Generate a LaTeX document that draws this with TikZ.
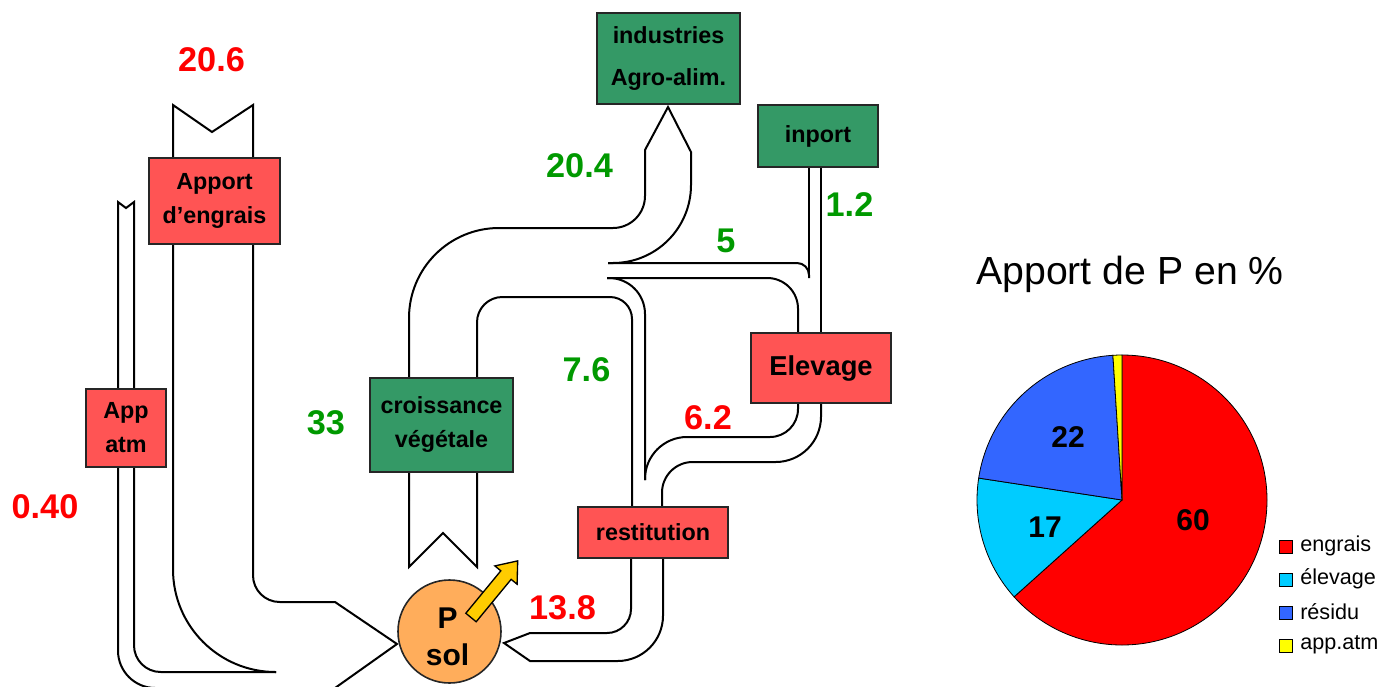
\documentclass[tikz,border=0pt]{standalone}
\usepackage{fontspec}
\setmainfont{Liberation Sans}
\usepackage{xcolor}

\definecolor{rougeboite}{RGB}{255,84,84}
\definecolor{vertboite}{RGB}{52,153,102}
\definecolor{rougeval}{RGB}{255,0,0}
\definecolor{vertval}{RGB}{0,153,0}
\definecolor{orangesol}{RGB}{255,173,91}
\definecolor{jaunefleche}{RGB}{255,204,0}
\definecolor{camrouge}{RGB}{255,0,0}
\definecolor{camcyan}{RGB}{0,204,255}
\definecolor{cambleu}{RGB}{51,102,255}
\definecolor{camjaune}{RGB}{255,255,0}

\begin{document}
\begin{tikzpicture}[x=0.75pt,y=0.75pt,yscale=-1,xscale=1,
  flux/.style={line width=1.5pt},
  boite/.style={draw=black!85,line width=1.2pt,inner sep=0pt,align=center,
    font=\fontsize{17.5}{25.5}\selectfont\bfseries},
  rouge/.style={boite,fill=rougeboite},
  vert/.style={boite,fill=vertboite},
  val/.style={inner sep=0pt,font=\fontsize{25.7}{30}\selectfont\bfseries},
  valr/.style={val,text=rougeval},
  valv/.style={val,text=vertval},
  part/.style={draw=black,line width=0.6pt},
  leg/.style={anchor=west,inner sep=0pt,font=\fontsize{16.2}{19}\selectfont}]
\useasboundingbox (0,0) rectangle (1381,686);

%Shape: Flux engrais + app atm
\draw[flux] (173,300) -- (173,105) -- (212,132) -- (253,105) -- (253,300);
\draw[flux,rounded corners=20pt] (253,300) -- (253,602) -- (300,602);
\draw[flux] (300,602) -- (335,602) -- (397,644) -- (335,688) -- (250,688);
\draw[flux,rounded corners=28pt] (250,688) -- (118,688) -- (118,500);
\draw[flux] (118,500) -- (118,202) -- (126,208) -- (134,202) -- (134,500);
\draw[flux,rounded corners=20pt] (134,500) -- (134,672) -- (276,672);
\draw[flux,rounded corners=77pt] (173,300) -- (173,672) -- (276,672);

%Shape: Flux croissance -> industries
\draw[flux] (409,500) -- (409,567) -- (443,533) -- (477,567) -- (477,500);
\draw[flux,rounded corners=67.5pt] (409,500) -- (409,228) -- (550,228);
\draw[flux,rounded corners=24pt] (550,228) -- (645,228) -- (645,180);
\draw[flux] (645,180) -- (645,150) -- (668,107) -- (691,152) -- (691,180);
\draw[flux,rounded corners=58.5pt] (691,180) -- (691,263) -- (608,263);

%Shape: Flux croissance -> elevage, inport
\draw[flux,rounded corners=9pt] (608,263) -- (809,263) -- (809,278);
\draw[flux] (809,167) -- (809,278);
\draw[flux] (821,167) -- (821,333);
\draw[flux,rounded corners=23pt] (798,333) -- (798,278) -- (607,278);

%Shape: Flux residus -> restitution
\draw[flux,rounded corners=19pt] (477,500) -- (477,297) -- (560,297);
\draw[flux,rounded corners=16.5pt] (560,297) -- (632,297) -- (632,507);
\draw[flux,rounded corners=27pt] (607,278) -- (645,278) -- (645,480);

%Shape: Flux elevage -> restitution
\draw[flux,rounded corners=21pt] (798,403) -- (798,437) -- (720,437);
\draw[flux,rounded corners=31.5pt] (720,437) -- (645,437) -- (645,480);
\draw[flux,rounded corners=34pt] (821,403) -- (821,462) -- (720,462);
\draw[flux,rounded corners=23pt] (720,462) -- (662,462) -- (662,507);

%Shape: Flux restitution -> sol
\draw[flux,rounded corners=18pt] (631,558) -- (631,633) -- (560,633);
\draw[flux] (560,633) -- (530,633) -- (504,643) -- (530,661) -- (600,661);
\draw[flux,rounded corners=34pt] (600,661) -- (663,661) -- (663,558);

%Shape: Boites
\node[rouge,minimum width=98.25pt,minimum height=64.5pt] (engrais) at (214.5,201) {Apport\\d’engrais};
\node[rouge,minimum width=60pt,minimum height=58.5pt] (atm) at (126,428) {App\\atm};
\node[vert,minimum width=107.25pt,minimum height=70.5pt] (croissance) at (441.5,425) {croissance\\végétale};
\node[vert,minimum width=107.25pt,minimum height=68.25pt] (industries) at (668.5,58.5) {industries\\[6.5pt]Agro-alim.};
\node[vert,minimum width=90pt,minimum height=46.5pt] (inport) at (818,136) {inport};
\node[rouge,minimum width=105pt,minimum height=52.5pt,font=\fontsize{20.5}{24}\selectfont\bfseries] (elevage) at (821,368) {Elevage};
\node[rouge,minimum width=112.5pt,minimum height=38.25pt] (restitution) at (653,532.5) {restitution};

%Shape: Circle sol
\node[circle,draw=black!85,line width=1.2pt,fill=orangesol,minimum size=77.25pt,inner sep=0pt] (sol) at (449.5,631.5) {};
\node[align=center,inner sep=0pt,font=\fontsize{22.5}{28}\selectfont\bfseries] (sol-texte) at (447.5,637) {P\\sol};

%Shape: Block Arrow
\begin{scope}[shift={(471,617.5)},rotate=-50.5]
\filldraw[fill=jaunefleche,draw=black,line width=1pt] (0,-6.7) -- (55,-6.7) -- (55,-14.4) -- (73.4,0) -- (55,14.4) -- (55,6.7) -- (0,6.7) -- cycle;
\end{scope}

% Text Node
\node[valr] (v-engrais) at (211.5,60) {20.6};
\node[valr] (v-atm) at (45,507) {0.40};
\node[valv] (v-croissance) at (326,423) {33};
\node[valv] (v-industries) at (579.5,166) {20.4};
\node[valv] (v-elevage) at (726,241) {5};
\node[valv] (v-inport) at (849.5,204.5) {1.2};
\node[valv] (v-residus) at (586.5,369.5) {7.6};
\node[valr] (v-dejections) at (708,417.5) {6.2};
\node[valr] (v-restitution) at (562.5,608) {13.8};

%Shape: Camembert
\coordinate (cam) at (1122,500);
\filldraw[part,fill=camrouge] (cam) -- ++(-90:145) arc[start angle=-90,end angle=138.1,radius=145] -- cycle;
\filldraw[part,fill=camcyan] (cam) -- ++(138.1:145) arc[start angle=138.1,end angle=188.7,radius=145] -- cycle;
\filldraw[part,fill=cambleu] (cam) -- ++(188.7:145) arc[start angle=188.7,end angle=266.4,radius=145] -- cycle;
\filldraw[part,fill=camjaune] (cam) -- ++(266.4:145) arc[start angle=266.4,end angle=270,radius=145] -- cycle;

% Text Node
\node[font=\fontsize{29.4}{34}\selectfont,inner sep=0pt] (titre) at (1130,274) {Apport de P en \%};
\node[font=\fontsize{22.5}{26}\selectfont\bfseries,inner sep=0pt] (p-engrais) at (1193,520) {60};
\node[font=\fontsize{22.5}{26}\selectfont\bfseries,inner sep=0pt] (p-elevage) at (1045,527) {17};
\node[font=\fontsize{22.5}{26}\selectfont\bfseries,inner sep=0pt] (p-residu) at (1068,437) {22};

%Shape: Legende
\filldraw[part,fill=camrouge] (1279,540) rectangle (1292,553);
\filldraw[part,fill=camcyan] (1279,573) rectangle (1292,586);
\filldraw[part,fill=cambleu] (1279,606) rectangle (1292,619);
\filldraw[part,fill=camjaune] (1279,639) rectangle (1292,652);
\node[leg] (l-engrais) at (1300,546) {engrais};
\node[leg] (l-elevage) at (1300,579) {élevage};
\node[leg] (l-residu) at (1300,612) {résidu};
\node[leg] (l-atm) at (1300,645) {app.atm};

\end{tikzpicture}
\end{document}
